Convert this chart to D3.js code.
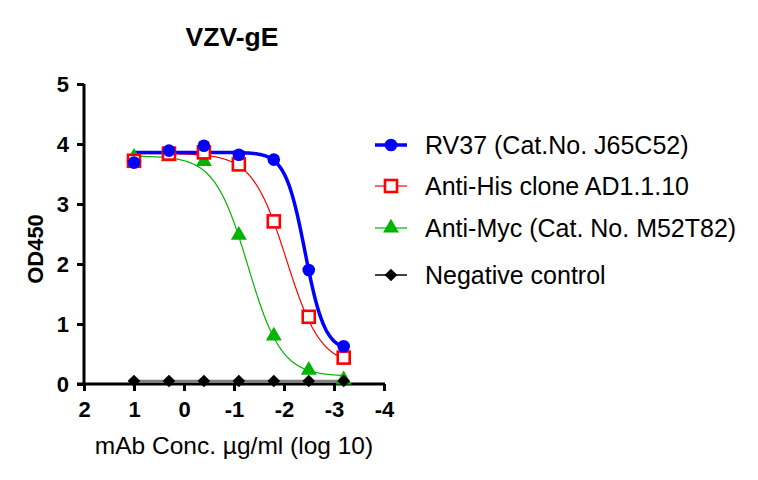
<!DOCTYPE html>
<html><head><meta charset="utf-8">
<script src="https://cdn.jsdelivr.net/npm/d3@7"></script>
<style>
html,body{margin:0;padding:0;background:#fff;}
svg{display:block;font-family:"Liberation Sans",Arial,sans-serif;}
</style></head>
<body><svg id="c" width="758" height="480"></svg>
<script>
// ---- data ----
const xLog = [1, 0.301, -0.398, -1.097, -1.796, -2.495, -3.194];
const rv37 = [3.69, 3.89, 3.97, 3.82, 3.74, 1.90, 0.63];
const antiHis = [3.72, 3.84, 3.86, 3.66, 2.71, 1.12, 0.44];
const antiMyc = [3.78, 3.79, 3.71, 2.48, 0.80, 0.23, 0.07];
const negCtrl = [0.05, 0.05, 0.05, 0.05, 0.05, 0.05, 0.05];
const seriesNames = ["RV37 (Cat.No. J65C52)", "Anti-His clone AD1.1.10", "Anti-Myc (Cat. No. M52T82)", "Negative control"];
// 4PL fit parameters: [top, bottom, logEC50, hill]
const fitRV37 = [3.86, 0.55, -2.42, 2.2];
const fitHis = [3.84, 0.30, -2.05, 1.27];
const fitMyc = [3.80, 0.13, -1.28, 1.3];
const xTicks = [2, 1, 0, -1, -2, -3, -4];
const yTicks = [0, 1, 2, 3, 4, 5];

const svg = d3.select("#c");
const x = d3.scaleLinear().domain([2, -4]).range([84, 384]);
const y = d3.scaleLinear().domain([0, 5]).range([384, 84]);

const fourPL = p => v => p[1] + (p[0] - p[1]) / (1 + Math.pow(10, (p[2] - v) * p[3]));
const curveLine = d3.line().x(d => x(d[0])).y(d => y(d[1])).curve(d3.curveLinear);
function curvePts(p) {
  const f = fourPL(p);
  return d3.range(0, 301).map(i => { const v = xLog[0] + (xLog[xLog.length-1] - xLog[0]) * i / 300; return [v, f(v)]; });
}

const colors = {blue: "#0000ff", red: "#ff0000", green: "#00b400", black: "#000000"};

// axes
const xAxis = d3.axisBottom(x).tickValues(xTicks).tickFormat(d3.format("d")).tickSize(7).tickSizeOuter(0);
const gx = svg.append("g").attr("transform", "translate(0,384)").call(xAxis);
gx.select(".domain").attr("stroke", "#000").attr("stroke-width", 3).attr("d", "M77,0H385");
gx.selectAll(".tick line").attr("stroke", "#000").attr("stroke-width", 3);
gx.selectAll(".tick text").attr("font-size", 22).attr("font-weight", "bold").attr("fill", "#000").attr("y", 13).attr("dy", "0.93em").text(d => d < 0 ? "-" + Math.abs(d) : d);

const yAxis = d3.axisLeft(y).tickValues(yTicks).tickFormat(d3.format("d")).tickSize(7).tickSizeOuter(0);
const gy = svg.append("g").attr("transform", "translate(84,0)").call(yAxis);
gy.select(".domain").attr("stroke", "#000").attr("stroke-width", 3).attr("d", "M0,84V385");
gy.selectAll(".tick line").attr("stroke", "#000").attr("stroke-width", 3);
gy.selectAll(".tick text").attr("font-size", 22).attr("font-weight", "bold").attr("fill", "#000").attr("x", -15);

// labels
svg.append("text").attr("x", 232).attr("y", 46).attr("text-anchor", "middle").attr("font-size", 26.5).attr("font-weight", "bold").text("VZV-gE");
svg.append("text").attr("transform", "translate(43,249) rotate(-90)").attr("text-anchor", "middle").attr("font-size", 22).attr("font-weight", "bold").text("OD450");
svg.append("text").attr("x", 234).attr("y", 454).attr("text-anchor", "middle").attr("font-size", 24.5).text("mAb Conc. \u00b5g/ml (log 10)");

// curves
const plot = svg.append("g");
plot.append("path").attr("d", curveLine(curvePts(fitMyc))).attr("fill", "none").attr("stroke", colors.green).attr("stroke-width", 1.2);
plot.append("path").attr("d", curveLine(curvePts(fitHis))).attr("fill", "none").attr("stroke", colors.red).attr("stroke-width", 1.2);
plot.append("path").attr("d", curveLine(curvePts(fitRV37))).attr("fill", "none").attr("stroke", colors.blue).attr("stroke-width", 3.5);
plot.append("path").attr("d", curveLine(xLog.map((v, i) => [v, negCtrl[i]]))).attr("fill", "none").attr("stroke", "#808080").attr("stroke-width", 2.5);

// markers
const tri = d3.symbol().type(d3.symbolTriangle).size(110);
const dia = d3.symbol().type(d3.symbolSquare).size(81);
function drawTri(g, cx, cy) { g.append("path").attr("d", tri()).attr("transform", `translate(${cx},${cy})`).attr("fill", colors.green); }
function drawSq(g, cx, cy) { g.append("rect").attr("x", cx - 6).attr("y", cy - 6).attr("width", 12).attr("height", 12).attr("fill", "#fff").attr("stroke", colors.red).attr("stroke-width", 2.6); }
function drawCirc(g, cx, cy) { g.append("circle").attr("cx", cx).attr("cy", cy).attr("r", 6.3).attr("fill", colors.blue); }
function drawDia(g, cx, cy) { g.append("path").attr("d", dia()).attr("transform", `translate(${cx},${cy}) rotate(45)`).attr("fill", "#000"); }

xLog.forEach((v, i) => drawTri(plot, x(v), y(antiMyc[i])));
xLog.forEach((v, i) => drawSq(plot, x(v), y(antiHis[i])));
xLog.forEach((v, i) => drawCirc(plot, x(v), y(rv37[i])));
xLog.forEach((v, i) => drawDia(plot, x(v), y(negCtrl[i])));

// legend
const legY = [145, 186, 228, 275];
const legStroke = [colors.blue, colors.red, colors.green, "#000"];
const legW = [3.5, 1.2, 1.2, 1.5];
const leg = svg.append("g");
seriesNames.forEach((name, i) => {
  leg.append("line").attr("x1", 375).attr("x2", 407).attr("y1", legY[i]).attr("y2", legY[i]).attr("stroke", legStroke[i]).attr("stroke-width", legW[i]);
  if (i === 0) drawCirc(leg, 391, legY[i]);
  if (i === 1) drawSq(leg, 391, legY[i]);
  if (i === 2) drawTri(leg, 391, legY[i]);
  if (i === 3) drawDia(leg, 391, legY[i]);
  leg.append("text").attr("x", 425).attr("y", legY[i]).attr("dy", "0.36em").attr("font-size", 25).text(name);
});
</script></body></html>
